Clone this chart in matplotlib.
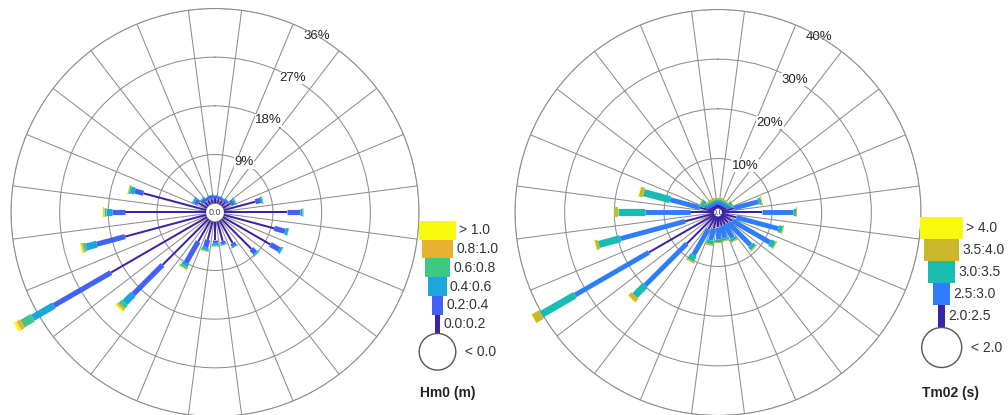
import numpy as np
import matplotlib
matplotlib.use('Agg')
import matplotlib.pyplot as plt
from matplotlib.patches import Rectangle, Circle

plt.rcParams['font.family'] = ['Liberation Sans', 'DejaVu Sans']

# compass directions of the sectors (deg, clockwise from north)
directions = np.arange(0, 360, 15)

# ---- Hm0 (m): frequency (%) per direction for each class
hm0_labels = ['0.0:0.2', '0.2:0.4', '0.4:0.6', '0.6:0.8', '0.8:1.0', '> 1.0']
hm0_b0 = [1.0, 0.9, 0.8, 1.0, 1.6, 6.0, 11.6, 9.6, 10.1, 7.8, 4.8, 3.8,
          3.3, 3.5, 4.5, 12.0, 20.5, 15.5, 14.9, 12.0, 1.8, 1.0, 0.9, 1.0]
hm0_b1 = [0.5, 0.4, 0.4, 0.4, 0.6, 1.0, 2.4, 2.1, 1.9, 1.0, 0.6, 0.5,
          0.7, 1.5, 4.5, 7.7, 12.2, 5.4, 2.5, 1.6, 0.7, 0.6, 0.5, 0.5]
hm0_b2 = [0.1, 0.1, 0.1, 0.1, 0.3, 0.3, 0.4, 0.5, 0.4, 0.3, 0.2, 0.2,
          0.3, 0.4, 0.6, 2.2, 4.5, 2.0, 1.0, 0.8, 0.3, 0.2, 0.1, 0.1]
hm0_b3 = [0, 0, 0, 0, 0.1, 0.1, 0.1, 0.1, 0.1, 0.1, 0.05, 0,
          0.1, 0.2, 0.4, 0.8, 2.2, 0.5, 0.4, 0.3, 0.1, 0, 0, 0]
hm0_b4 = [0, 0, 0, 0, 0, 0, 0, 0, 0, 0, 0, 0,
          0, 0.1, 0.1, 0.4, 0.8, 0.3, 0.2, 0.1, 0, 0, 0, 0]
hm0_b5 = [0, 0, 0, 0, 0, 0, 0, 0, 0, 0, 0, 0,
          0, 0, 0.1, 0.3, 0.5, 0.2, 0.1, 0.1, 0, 0, 0, 0]
hm0_ticks = [9, 18, 27, 36]

# ---- Tm02 (s)
tm02_labels = ['2.0:2.5', '2.5:3.0', '3.0:3.5', '3.5:4.0', '> 4.0']
tm02_b0 = [0.8, 0.7, 0.7, 0.8, 1.0, 2.5, 8.0, 3.0, 2.5, 2.0, 2.0, 2.0,
           2.0, 2.5, 3.0, 8.0, 15.2, 6.0, 4.8, 2.9, 1.2, 0.8, 0.7, 0.8]
tm02_b1 = [0.7, 0.7, 0.6, 0.7, 1.0, 5.1, 6.2, 8.7, 8.7, 6.4, 3.0, 2.4,
           2.4, 2.4, 6.0, 11.9, 17.2, 13.5, 9.0, 6.2, 1.0, 0.7, 0.6, 0.6]
tm02_b2 = [0.3, 0.3, 0.3, 0.3, 0.4, 0.5, 0.7, 0.8, 1.0, 0.8, 0.6, 0.5,
           0.6, 0.8, 1.2, 2.9, 7.8, 4.5, 5.4, 5.5, 0.8, 0.4, 0.3, 0.3]
tm02_b3 = [0.2, 0.2, 0.2, 0.1, 0.1, 0.2, 0.2, 0.2, 0.2, 0.2, 0.2, 0.2,
           0.2, 0.3, 0.3, 0.9, 1.7, 0.6, 0.8, 0.8, 0.2, 0.2, 0.2, 0.2]
tm02_b4 = [0, 0, 0, 0, 0, 0, 0, 0, 0, 0, 0, 0,
           0, 0, 0, 0.1, 0.1, 0.1, 0.1, 0.1, 0, 0, 0, 0]
tm02_ticks = [10, 20, 30, 40]

hm0_colors = ['#3b22a6', '#4262f6', '#1ba6dc', '#3ec785', '#e8b230', '#f8f90c']
tm02_colors = ['#3b22a6', '#2e7efb', '#19bcb2', '#c9b92a', '#f8f90c']

GRID = '#8e8e8e'


def draw_rose(rect, bins, colors, widths_px, ticks, hole_px, radius_px=204):
    ax = fig.add_axes(rect, projection='polar')
    ax.set_theta_zero_location('N')
    ax.set_theta_direction(-1)
    rmax = ticks[-1]
    ax.set_ylim(0, rmax)
    ax.set_rorigin(-rmax * hole_px / (radius_px - hole_px))
    ax.set_thetagrids(np.arange(7.5, 360, 15), labels=[])
    ax.set_yticks(ticks)
    ax.set_yticklabels([])
    ax.grid(True, color=GRID, lw=0.75)
    ax.set_axisbelow(True)
    for sp in ax.spines.values():
        sp.set_color(GRID)
        sp.set_linewidth(0.75)

    th = np.deg2rad(directions)
    cum = np.zeros(len(directions))
    for vals, col, w in zip(bins, colors, widths_px):
        vals = np.array(vals)
        for t, r0, v in zip(th, cum, vals):
            if v <= 0:
                continue
            ax.plot([t, t], [r0, r0 + v], color=col, lw=w * 0.72,
                    solid_capstyle='butt', clip_on=False, zorder=3)
        cum = cum + vals

    for t in ticks:
        ax.text(np.deg2rad(30), t, f'{t}%', ha='center', va='center',
                fontsize=9.5, color='#222222', zorder=2,
                bbox=dict(facecolor='white', edgecolor='none', pad=0.3))
    ax.text(0, ax.get_rorigin(), '0.0', ha='center', va='center',
            fontsize=6.5, color='#444444', zorder=1)
    return ax


def draw_legend(ax, xc, y_top, box_h, widths, colors, labels, calm, circ_r,
                title, title_x):
    y = y_top
    # highest class on top
    for w, col, lab in zip(widths[::-1], colors[::-1], labels[::-1]):
        ax.add_patch(Rectangle((xc - w / 2, y), w, box_h, facecolor=col,
                               edgecolor='none'))
        ax.text(xc + w / 2 + 3, y + box_h / 2, lab, ha='left', va='center',
                fontsize=10, color='#333333')
        y += box_h
    ax.add_patch(Circle((xc, y + circ_r), circ_r, facecolor='white',
                        edgecolor='#555555', lw=1.0))
    ax.text(xc + circ_r + 9, y + circ_r, calm, ha='left', va='center',
            fontsize=10, color='#333333')
    ax.text(title_x, 393, title, ha='left', va='center', fontsize=10,
            fontweight='bold', color='#222222')


fig = plt.figure(figsize=(10.08, 4.15), dpi=100)
W, H = 1008, 415


def polar_rect(cx, cy, r):
    return [(cx - r) / W, (H - cy - r) / H, 2 * r / W, 2 * r / H]


draw_rose(polar_rect(215, 212.5, 204),
          [hm0_b0, hm0_b1, hm0_b2, hm0_b3, hm0_b4, hm0_b5],
          hm0_colors, [2.0, 5.2, 7.0, 8.6, 9.8, 10.8], hm0_ticks, 9.3)
draw_rose(polar_rect(718, 212.5, 203),
          [tm02_b0, tm02_b1, tm02_b2, tm02_b3, tm02_b4],
          tm02_colors, [2.0, 4.9, 7.2, 9.8, 11.2], tm02_ticks, 4.3, radius_px=203)

leg = fig.add_axes([0, 0, 1, 1], zorder=5)
leg.set_xlim(0, W)
leg.set_ylim(H, 0)
leg.axis('off')
leg.patch.set_alpha(0)

draw_legend(leg, 437.5, 220.7, 18.8, [5.7, 11.3, 18.3, 25, 31.7, 36.7],
            hm0_colors, hm0_labels, '< 0.0', 18.3, 'Hm0 (m)', 420)
draw_legend(leg, 941.7, 217, 22.1, [7.3, 16.7, 26.7, 35, 43],
            tm02_colors, tm02_labels, '< 2.0', 20, 'Tm02 (s)', 921.7)

fig.savefig('out.png', dpi=100)
